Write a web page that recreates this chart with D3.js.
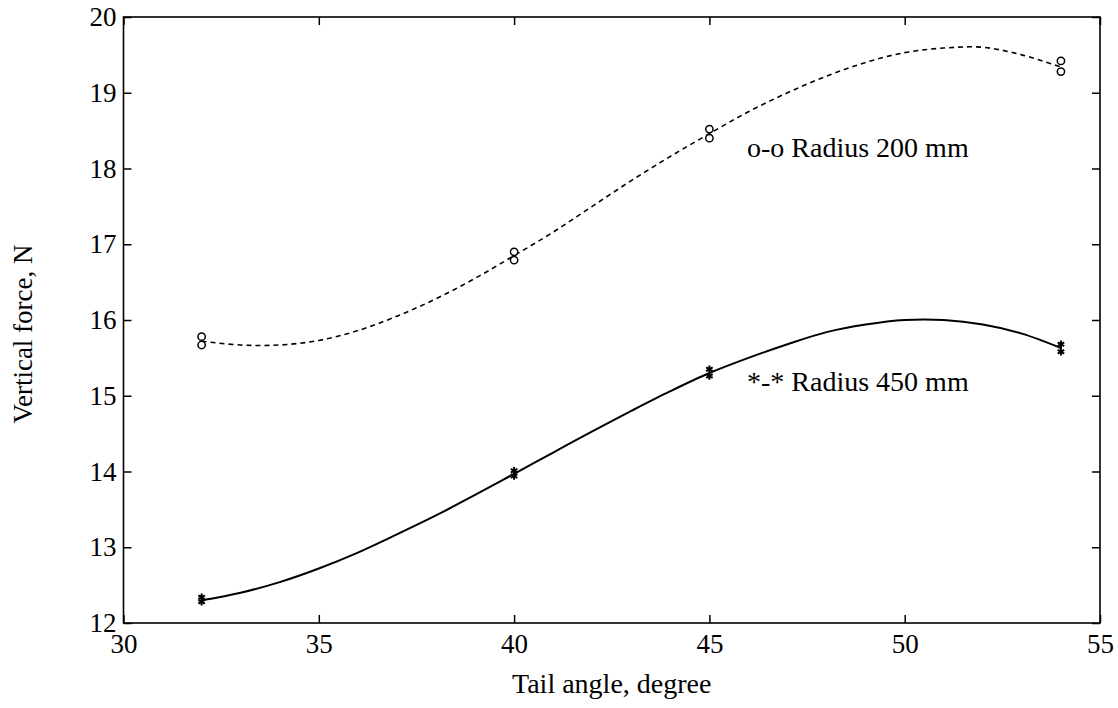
<!DOCTYPE html>
<html>
<head>
<meta charset="utf-8">
<script src="https://cdn.jsdelivr.net/npm/d3@7"></script>
<style>
  body { margin: 0; background: #fff; }
  svg text { font-family: "Liberation Serif", "Times New Roman", serif !important; fill: #000; }
</style>
</head>
<body>
<div id="chart"></div>
<script>
// measured points (two readings per angle)
var angles = [32, 40, 45, 54];
var r200High = [15.78, 16.9, 18.52, 19.42];
var r200Low = [15.67, 16.79, 18.4, 19.28];
var r450High = [12.34, 14.01, 15.35, 15.68];
var r450Low = [12.28, 13.94, 15.26, 15.58];

// fitted curves
var curveAngles = [32, 33, 34, 35, 36, 37, 38, 39, 40, 41, 42, 43, 44, 45, 46, 47, 48, 49, 50, 51, 52, 53, 54];
var r200Curve = [15.72, 15.67, 15.67, 15.73, 15.86, 16.05, 16.28, 16.55, 16.85, 17.16, 17.5, 17.84, 18.16, 18.46, 18.75, 19.0, 19.22, 19.4, 19.53, 19.59, 19.6, 19.5, 19.34];
var r450Curve = [12.3, 12.4, 12.54, 12.72, 12.93, 13.17, 13.42, 13.69, 13.97, 14.25, 14.53, 14.8, 15.06, 15.3, 15.5, 15.68, 15.84, 15.94, 16.0, 16.0, 15.94, 15.82, 15.63];

var xTicks = [30, 35, 40, 45, 50, 55];
var yTicks = [12, 13, 14, 15, 16, 17, 18, 19, 20];

var svgWidth = 1118;
var svgHeight = 708;

var margin = { top: 17, right: 18, bottom: 85, left: 123.5 };
var width = svgWidth - margin.left - margin.right;
var height = svgHeight - margin.top - margin.bottom;

var svg = d3.select("#chart")
  .append("svg")
  .attr("width", svgWidth)
  .attr("height", svgHeight);

var chartGroup = svg.append("g")
  .attr("transform", `translate(${margin.left}, ${margin.top})`);

var xScale = d3.scaleLinear().domain([30, 55]).range([0, width]);
var yScale = d3.scaleLinear().domain([12, 20]).range([height, 0]);

function styleAxis(g) {
  g.attr("font-family", null).attr("font-size", null);
  g.select(".domain").remove();
  g.selectAll("line").attr("stroke", "#000").attr("stroke-width", 1.5);
  g.selectAll("text").style("font-size", "27px").attr("fill", "#000");
}

chartGroup.append("g")
  .attr("transform", `translate(0, ${height})`)
  .call(d3.axisBottom(xScale).tickValues(xTicks).tickSize(-8).tickPadding(11))
  .call(styleAxis);

chartGroup.append("g")
  .call(d3.axisTop(xScale).tickValues(xTicks).tickSize(-8).tickFormat(""))
  .call(styleAxis);

chartGroup.append("g")
  .call(d3.axisLeft(yScale).tickValues(yTicks).tickSize(-8).tickPadding(7))
  .call(styleAxis);

chartGroup.append("g")
  .attr("transform", `translate(${width}, 0)`)
  .call(d3.axisRight(yScale).tickValues(yTicks).tickSize(-8).tickFormat(""))
  .call(styleAxis);

chartGroup.append("rect")
  .attr("width", width)
  .attr("height", height)
  .attr("fill", "none")
  .attr("stroke", "#000")
  .attr("stroke-width", 1.6);

var line = d3.line()
  .x(d => xScale(d[0]))
  .y(d => yScale(d[1]))
  .curve(d3.curveCatmullRom);

chartGroup.append("path")
  .datum(curveAngles.map((a, i) => [a, r200Curve[i]]))
  .attr("d", line)
  .attr("fill", "none")
  .attr("stroke", "#000")
  .attr("stroke-width", 1.6)
  .attr("stroke-dasharray", "5,4");

chartGroup.append("path")
  .datum(curveAngles.map((a, i) => [a, r450Curve[i]]))
  .attr("d", line)
  .attr("fill", "none")
  .attr("stroke", "#000")
  .attr("stroke-width", 2);

var circleSym = d3.symbol().type(d3.symbolCircle).size(42);
var starSym = d3.symbol().type(d3.symbolAsterisk).size(40);

var r200Pts = angles.map((a, i) => [a, r200High[i]]).concat(angles.map((a, i) => [a, r200Low[i]]));
var r450Pts = angles.map((a, i) => [a, r450High[i]]).concat(angles.map((a, i) => [a, r450Low[i]]));

chartGroup.selectAll("path.r200")
  .data(r200Pts)
  .enter()
  .append("path")
  .classed("r200", true)
  .attr("transform", d => `translate(${xScale(d[0])}, ${yScale(d[1])})`)
  .attr("d", circleSym)
  .attr("fill", "#fff")
  .attr("stroke", "#000")
  .attr("stroke-width", 1.5);

chartGroup.selectAll("path.r450")
  .data(r450Pts)
  .enter()
  .append("path")
  .classed("r450", true)
  .attr("transform", d => `translate(${xScale(d[0])}, ${yScale(d[1])})`)
  .attr("d", starSym)
  .attr("fill", "none")
  .attr("stroke", "#000")
  .attr("stroke-width", 2);

// labels on the plot
svg.append("text")
  .attr("x", 747)
  .attr("y", 157)
  .style("font-size", "28px")
  .text("o-o Radius 200 mm");

svg.append("text")
  .attr("x", 747)
  .attr("y", 391)
  .style("font-size", "28px")
  .text("*-* Radius 450 mm");

// axis titles
svg.append("text")
  .attr("x", margin.left + width / 2)
  .attr("y", 693)
  .style("text-anchor", "middle")
  .style("font-size", "28px")
  .text("Tail angle, degree");

svg.append("text")
  .attr("transform", "translate(32, 334) rotate(-90)")
  .style("text-anchor", "middle")
  .style("font-size", "27px")
  .text("Vertical force, N");
</script>
</body>
</html>
